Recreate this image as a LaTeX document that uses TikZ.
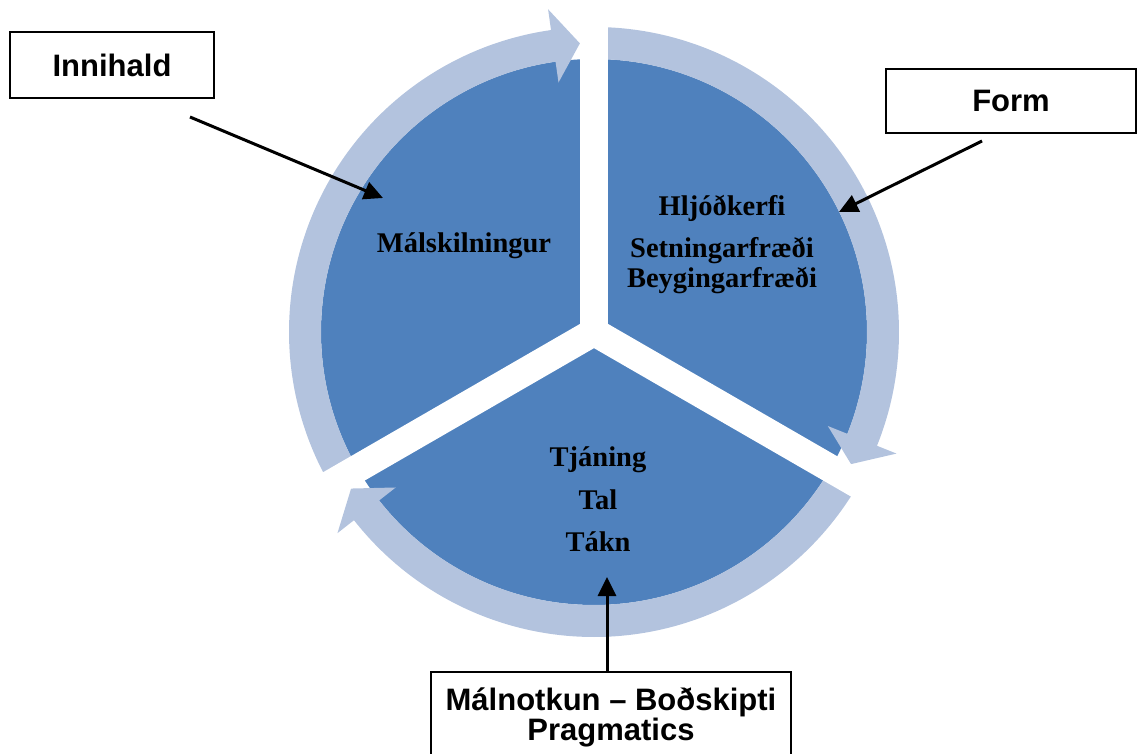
\documentclass[tikz,border=0pt]{standalone}
\usepackage{fontspec}
\setmainfont{Liberation Serif}
\setsansfont{Liberation Sans}
\usetikzlibrary{positioning, arrows.meta}
\definecolor{sectorBlue}{RGB}{79,129,189}
\definecolor{ringBlue}{RGB}{179,195,222}
\tikzset{LabelBox/.style={%
    shape=rectangle,%
    draw=black,%
    fill=white,%
    line width=1.5pt,%
    align=center,%
    font=\sffamily\bfseries\fontsize{31}{28}\selectfont,%
}}
\tikzset{SectorText/.style={%
    anchor=base,%
    inner sep=0pt,%
    font=\rmfamily\bfseries\fontsize{28.5}{30}\selectfont,%
}}
\tikzset{PointerArrow/.style={%
    -{Triangle[length=19pt,width=18pt]},%
    line width=3pt,%
}}
\tikzset{RingArrow/.style={%
    fill=ringBlue,%
}}
\tikzset{GapLine/.style={%
    draw=white,%
    line width=28pt,%
}}
\NewDocumentCommand{\ringArrow}{m m}{%
    \pgfmathsetmacro{\headBase}{#2+5.3}%
    \fill[RingArrow] (#1:305) arc[start angle=#1, end angle=\headBase, radius=305]
        -- (\headBase:326) -- (#2:289) -- (\headBase:252) -- (\headBase:273)
        arc[start angle=\headBase, end angle=#1, radius=273] -- cycle;%
}

\begin{document}
\begin{tikzpicture}[x=1pt, y=1pt]
    \clip (0,0) rectangle (1138,753);
    \coordinate (ctr) at (594,421);

    % pie and ring arrows
    \fill[sectorBlue] (ctr) circle[radius=273];
    \begin{scope}[shift={(ctr)}]
        \ringArrow{210}{92.8}
        \ringArrow{90}{-27.2}
        \ringArrow{-30}{-147.2}
        \draw[GapLine] (0,0) -- (90:330);
        \draw[GapLine] (0,0) -- (-30:330);
        \draw[GapLine] (0,0) -- (210:330);
    \end{scope}

    % sector texts
    \node[SectorText] (innText) at (464,500) {Málskilningur};
    \node[SectorText] (formText1) at (722,537) {Hljóðkerfi};
    \node[SectorText] (formText2) at (722,495) {Setningarfræði};
    \node[SectorText] (formText3) at (722,465) {Beygingarfræði};
    \node[SectorText] (useText1) at (598,286) {Tjáning};
    \node[SectorText] (useText2) at (598,243) {Tal};
    \node[SectorText] (useText3) at (598,201) {Tákn};

    % label boxes
    \node[LabelBox, minimum width=204pt, minimum height=66pt] (innBox) at (112,688) {Innihald};
    \node[LabelBox, minimum width=250pt, minimum height=64pt] (formBox) at (1011,652) {Form};
    \node[LabelBox, minimum width=360pt, inner ysep=16pt, anchor=north] (useBox) at (611,82) {Málnotkun – Boðskipti\\Pragmatics};

    % pointers
    \coordinate (innStart) at (190,636);
    \coordinate (innTip) at (383,555);
    \coordinate (formStart) at (982,612);
    \coordinate (formTip) at (839,541);
    \coordinate (useTip) at (607,176);
    \draw[PointerArrow] (innStart) -- (innTip);
    \draw[PointerArrow] (formStart) -- (formTip);
    \draw[PointerArrow] (useBox.north -| useTip) -- (useTip);
\end{tikzpicture}
\end{document}
